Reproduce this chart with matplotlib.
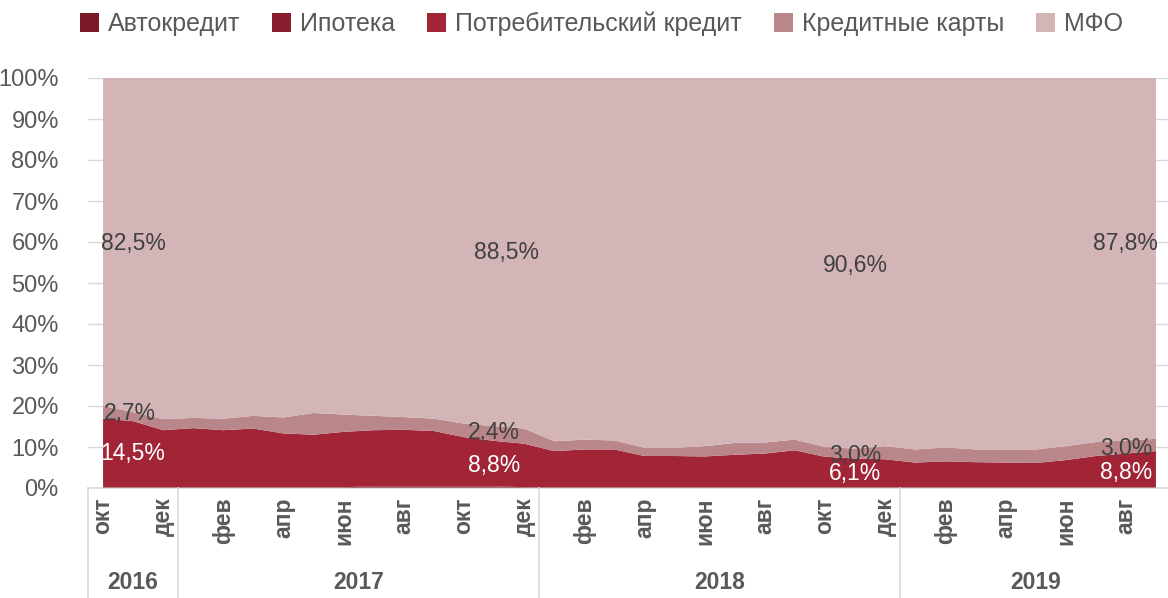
import matplotlib
matplotlib.use("Agg")
import matplotlib.pyplot as plt
from matplotlib.patches import Patch
from matplotlib import font_manager as fm
import matplotlib.transforms as mtransforms

names = {f.name for f in fm.fontManager.ttflist}
FONT = "Liberation Sans Narrow" if "Liberation Sans Narrow" in names else "Liberation Sans"
plt.rcParams["font.family"] = [FONT, "DejaVu Sans"]

# ---------------- data (shares, %) Oct 2016 .. Sep 2019 ----------------
series_names = ["Автокредит", "Ипотека", "Потребительский кредит", "Кредитные карты", "МФО"]

auto = [0.1, 0.1, 0.1, 0.1, 0.1, 0.1, 0.1, 0.1, 0.1, 0.1, 0.1, 0.1,
        0.1, 0.1, 0.1, 0.1, 0.1, 0.1, 0.1, 0.1, 0.1, 0.1, 0.1, 0.1,
        0.1, 0.1, 0.1, 0.1, 0.1, 0.1, 0.1, 0.1, 0.1, 0.1, 0.1, 0.1]
mortgage = [0.1, 0.1, 0.1, 0.1, 0.1, 0.1, 0.1, 0.1, 0.1, 0.3, 0.3, 0.3,
            0.3, 0.3, 0.1, 0.1, 0.1, 0.1, 0.1, 0.1, 0.1, 0.1, 0.1, 0.1,
            0.1, 0.1, 0.1, 0.1, 0.1, 0.1, 0.1, 0.1, 0.1, 0.1, 0.1, 0.1]
consumer = [16.7, 16.1, 13.9, 14.4, 13.9, 14.3, 13.1, 12.8, 13.5, 13.7, 13.8, 13.5,
            12.0, 11.1, 10.6, 8.8, 9.2, 9.2, 7.6, 7.6, 7.5, 7.9, 8.2, 9.0,
            7.4, 7.0, 6.8, 6.0, 6.3, 6.1, 6.0, 5.9, 6.6, 7.6, 8.2, 8.8]
cards = [3.1, 2.2, 2.7, 2.5, 2.8, 3.1, 3.9, 5.3, 4.2, 3.5, 3.1, 3.0,
         3.3, 3.6, 3.7, 2.4, 2.4, 2.2, 2.0, 2.0, 2.5, 2.9, 2.7, 2.6,
         2.4, 2.4, 3.2, 3.2, 3.4, 3.1, 3.2, 3.3, 3.4, 3.4, 3.2, 3.0]
mfo = [80.0, 81.5, 83.2, 82.9, 83.1, 82.4, 82.8, 81.7, 82.1, 82.4, 82.7, 83.1,
       84.3, 84.9, 85.5, 88.6, 88.2, 88.4, 90.2, 90.2, 89.8, 89.0, 88.9, 88.2,
       90.0, 90.4, 89.8, 90.6, 90.1, 90.6, 90.6, 90.6, 89.8, 88.8, 88.4, 88.0]

month_labels = ["окт", "", "дек", "", "фев", "", "апр", "", "июн", "", "авг", "",
                "окт", "", "дек", "", "фев", "", "апр", "", "июн", "", "авг", "",
                "окт", "", "дек", "", "фев", "", "апр", "", "июн", "", "авг", ""]
years = ["2016", "2017", "2018", "2019"]
year_months = [3, 12, 12, 9]

# data labels
mfo_labels = ["82,5%", "88,5%", "90,6%", "87,8%"]
card_labels = ["2,7%", "2,4%", "3,0%", "3,0%"]
cons_labels = ["14,5%", "8,8%", "6,1%", "8,8%"]
mfo_label_x = [1, 13.4, 25, 34]
card_label_x = [0.9, 13, 25, 34]
cons_label_x = [1, 13, 25, 34]
mfo_label_y = [59.7, 57.5, 54.3, 59.7]
card_label_y = [18.2, 13.5, 8.0, 9.6]
cons_label_y = [8.5, 5.5, 3.5, 3.9]

colors = ["#7A1B27", "#8A1E2E", "#A12537", "#B9878A", "#D3B5B7"]
GRAY = "#595959"
GRID = "#D9D9D9"

# ---------------- figure ----------------
fig = plt.figure(figsize=(11.68, 5.98), dpi=100)
ax = fig.add_axes([88 / 1168, 110 / 598, 1083 / 1168, 410 / 598])

x = list(range(len(mfo)))
ax.stackplot(x, auto, mortgage, consumer, cards, mfo, colors=colors, zorder=2, linewidth=0)

ax.set_xlim(-0.5, len(x) - 0.5)
ax.set_ylim(0, 100)
ax.set_yticks(range(0, 101, 10))
ax.set_yticklabels([f"{v}%" for v in range(0, 101, 10)], color=GRAY, fontsize=17)
ax.tick_params(axis="y", length=0, pad=21)
ax.yaxis.grid(True, color=GRID, lw=1, zorder=0)
ax.set_axisbelow(True)
for s in ax.spines.values():
    s.set_visible(False)

ax.set_xticks(x)
ax.set_xticklabels(month_labels, rotation=90, fontsize=16.5, fontweight="bold", color=GRAY,
                   va="top", ha="center")
ax.tick_params(axis="x", length=0, pad=7)

trans = mtransforms.blended_transform_factory(ax.transData, ax.transAxes)
ybot = -110 / 410
ax.plot([-0.5, len(x) - 0.5], [0, 0], transform=trans, color=GRID, lw=1.2, clip_on=False, zorder=1)
start = -0.5
bounds = [start]
for n in year_months:
    start += n
    bounds.append(start)
for b in bounds[:-1]:
    ax.plot([b, b], [0, ybot], transform=trans, color=GRID, lw=1.2, clip_on=False)
for yr, a, b in zip(years, bounds[:-1], bounds[1:]):
    ax.text((a + b) / 2, -0.23, yr, transform=trans, ha="center", va="center",
            fontsize=16.5, fontweight="bold", color=GRAY)

# data labels
for i in range(4):
    ax.text(mfo_label_x[i], mfo_label_y[i], mfo_labels[i], ha="center", va="center",
            fontsize=16.5, color="#404040", zorder=5)
    ax.text(card_label_x[i], card_label_y[i], card_labels[i], ha="center", va="center",
            fontsize=16.5, color="#404040", zorder=5)
    ax.text(cons_label_x[i], cons_label_y[i], cons_labels[i], ha="center", va="center",
            fontsize=16.5, color="white", zorder=5)

handles = [Patch(facecolor=c, edgecolor="none") for c in colors]
fig.legend(handles, series_names, loc="center", bbox_to_anchor=(0.515, 0.96), ncol=5,
           frameon=False, fontsize=18, handlelength=0.75, handleheight=0.75,
           handletextpad=0.35, columnspacing=1.3, labelcolor=GRAY)

fig.savefig("out.png", dpi=100)
